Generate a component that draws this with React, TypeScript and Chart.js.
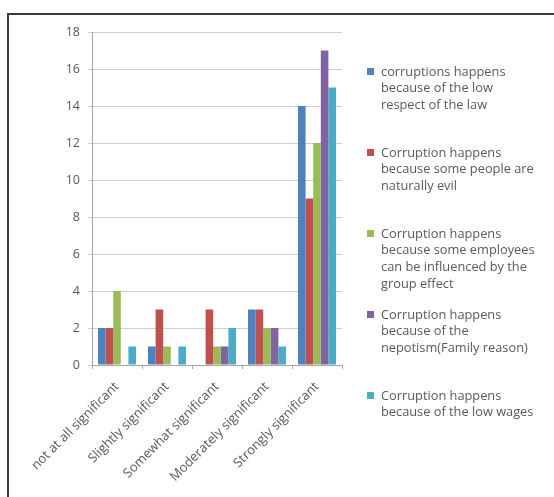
import React, { useEffect, useRef } from "react";
import { Chart, registerables } from "chart.js";

Chart.register(...registerables);

const categories = [
  "not at all significant",
  "Slightly significant",
  "Somewhat significant",
  "Moderately significant",
  "Strongly significant",
];

const seriesLaw = [2, 1, 0, 3, 14];
const seriesEvil = [2, 3, 3, 3, 9];
const seriesGroup = [4, 1, 1, 2, 12];
const seriesNepotism = [0, 0, 1, 2, 17];
const seriesWages = [1, 1, 2, 1, 15];

const seriesLabelLines = [
  ["corruptions happens", "because of the low", "respect of the law"],
  ["Corruption happens", "because some people are", "naturally evil"],
  ["Corruption happens", "because some employees", "can be influenced by the", "group effect"],
  ["Corruption happens", "because of the", "nepotism(Family reason)"],
  ["Corruption happens", "because of the low wages"],
];

const seriesColors = ["#4F81BD", "#C0504D", "#9BBB59", "#8064A2", "#4BACC6"];

const yMin = 0;
const yMax = 18;
const yStep = 2;

const W = 554;
const H = 497;
const TEXT = "#595959";
const FONT = '"Open Sans", "DejaVu Sans", sans-serif';

const framePlugin = {
  id: "frame",
  beforeDraw(chart: any) {
    const ctx = chart.ctx;
    ctx.save();
    ctx.fillStyle = "#ffffff";
    ctx.fillRect(0, 0, chart.width, chart.height);
    ctx.fillStyle = "#3a3a3a";
    ctx.fillRect(7, 13, chart.width - 7, 2);
    ctx.fillRect(7, 13, 2, chart.height - 13);
    ctx.restore();
  },
};

const sideLegendPlugin = {
  id: "sideLegend",
  afterDraw(chart: any) {
    const ctx = chart.ctx;
    ctx.save();
    ctx.font = `12.8px ${FONT}`;
    ctx.textBaseline = "middle";
    ctx.textAlign = "left";
    chart.data.datasets.forEach((ds: any, i: number) => {
      const y0 = 72 + i * 81;
      ctx.fillStyle = ds.backgroundColor;
      ctx.fillRect(367, y0 - 4, 7, 7);
      ctx.fillStyle = TEXT;
      seriesLabelLines[i].forEach((line, j) => {
        ctx.fillText(line, 381, y0 + j * 16.7);
      });
    });
    ctx.restore();
  },
};

export default function App() {
  const ref = useRef<HTMLCanvasElement | null>(null);

  useEffect(() => {
    document.body.style.margin = "0";
    const canvas = ref.current;
    if (!canvas) return;
    const seriesValues = [seriesLaw, seriesEvil, seriesGroup, seriesNepotism, seriesWages];
    const chart = new Chart(canvas, {
      type: "bar",
      data: {
        labels: categories,
        datasets: seriesValues.map((vals, i) => ({
          label: seriesLabelLines[i].join(" "),
          data: vals,
          backgroundColor: seriesColors[i],
          borderWidth: 0,
          barPercentage: 1,
          categoryPercentage: 0.76,
        })),
      },
      options: {
        responsive: false,
        animation: false,
        devicePixelRatio: 1,
        layout: { padding: { left: 0, top: 32, right: 212, bottom: 0 } },
        plugins: {
          legend: { display: false },
          tooltip: { enabled: false },
        },
        scales: {
          x: {
            grid: {
              display: true,
              drawOnChartArea: false,
              drawTicks: true,
              tickLength: 4,
              color: "#a6a6a6",
              offset: true,
            },
            border: { display: true, color: "#a6a6a6" },
            ticks: {
              color: TEXT,
              font: { size: 13, family: FONT },
              maxRotation: 45,
              minRotation: 45,
              padding: 10,
              autoSkip: false,
            },
            afterFit(s: any) {
              s.height = H - 365;
            },
          },
          y: {
            min: yMin,
            max: yMax,
            ticks: {
              stepSize: yStep,
              color: TEXT,
              font: { size: 12.5, family: FONT },
              padding: 8,
            },
            grid: {
              color: "#cfcfcf",
              tickLength: 4,
              drawTicks: true,
            },
            border: { display: true, color: "#a6a6a6" },
            afterFit(s: any) {
              s.width = 92;
            },
          },
        },
      },
      plugins: [framePlugin, sideLegendPlugin],
    });
    return () => chart.destroy();
  }, []);

  return (
    <div style={{ width: W, height: H, position: "relative" }}>
      <canvas ref={ref} width={W} height={H} style={{ display: "block", width: W, height: H }} />
    </div>
  );
}
